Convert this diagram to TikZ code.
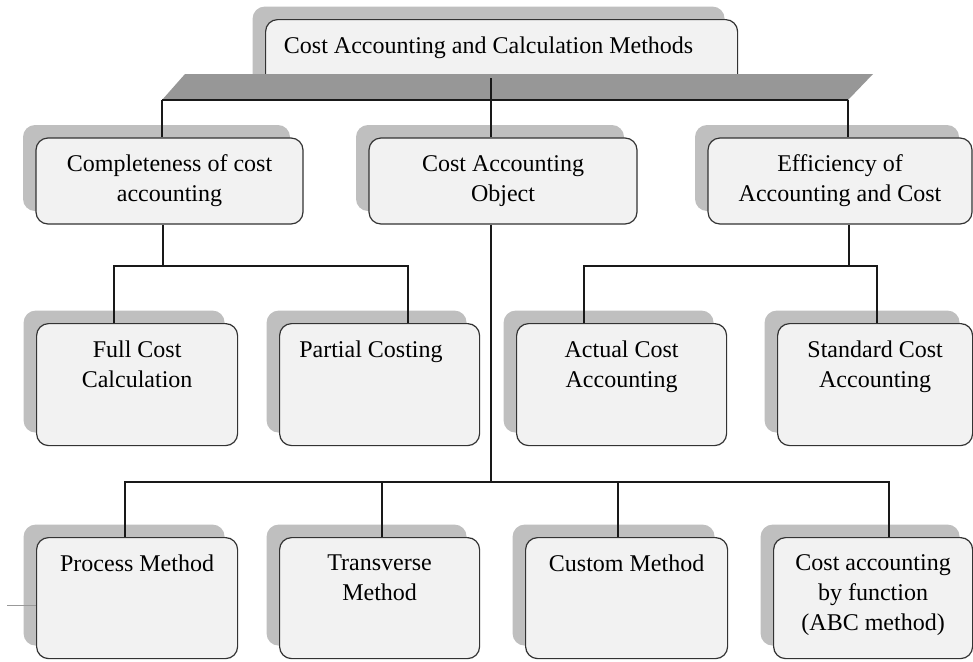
\documentclass[tikz,border=0pt]{standalone}
\usepackage{fontspec}
\setmainfont{Liberation Serif}
\usetikzlibrary{shadows}

\newlength{\pxu}
\setlength{\pxu}{0.75pt}

\definecolor{cardfill}{HTML}{F2F2F2}
\definecolor{shadowgray}{HTML}{BFBFBF}
\definecolor{bargray}{HTML}{979797}
\definecolor{edgegray}{HTML}{333333}

% text placed at the top of a card
\newcommand{\cardtext}[3]{\parbox[t][#2\pxu][t]{#1\pxu}{\centering\vspace*{13pt}#3}}

\tikzset{
  card/.style={draw=edgegray, line width=0.9pt, fill=cardfill, rounded corners=9pt,
    general shadow={fill=shadowgray, shadow xshift=-13*0.75pt, shadow yshift=13*0.75pt},
    inner sep=0pt, font=\fontsize{18}{22.5}\selectfont},
  midcard/.style={card, align=center, minimum height=86*0.75pt},
  link/.style={draw=black!90, line width=0.9pt},
}

\begin{document}
\begin{tikzpicture}[x=0.75pt, y=-0.75pt]
  \useasboundingbox (0,0) rectangle (973,661);

  % title card
  \node[card, anchor=north west] (head) at (265,19)
    {\cardtext{472}{80}{\hspace*{-19.5pt}Cost Accounting and Calculation Methods}};

  % slanted bar under the title
  \fill[bargray] (185,74) -- (873,74) -- (848,100) -- (162,100) -- cycle;
  \draw[link] (162,100) coordinate (barL) -- (848,100) coordinate (barR);
  \coordinate (trunk) at (491,78);

  % first row
  \node[midcard, minimum width=267*0.75pt] (comp) at (169.5,181) {Completeness of cost\\accounting};
  \node[midcard, minimum width=268*0.75pt] (obj) at (503,181) {Cost Accounting\\Object};
  \node[midcard, minimum width=264*0.75pt] (eff) at (840,181) {Efficiency of\\Accounting and Cost};

  % second row
  \node[card, anchor=north west] (full) at (36,323) {\cardtext{201}{122}{Full Cost\\Calculation}};
  \node[card, anchor=north west] (part) at (279,323) {\cardtext{200}{122}{\hspace*{-13pt}Partial Costing}};
  \node[card, anchor=north west] (act) at (516,323) {\cardtext{210}{122}{Actual Cost\\Accounting}};
  \node[card, anchor=north west] (std) at (777,323) {\cardtext{195}{122}{Standard Cost\\Accounting}};

  % third row
  \node[card, anchor=north west] (proc) at (36,537) {\cardtext{201}{121}{Process Method}};
  \node[card, anchor=north west] (trans) at (279,537) {\cardtext{200}{121}{Transverse\\Method}};
  \node[card, anchor=north west] (cust) at (525,537) {\cardtext{202}{121}{Custom Method}};
  \node[card, anchor=north west] (func) at (773,537) {\cardtext{199}{121}{Cost accounting\\by function\\(ABC method)}};

  % bar to first row
  \draw[link] (trunk) -- (obj.north -| trunk);
  \draw[link] (barL) -- (comp.north -| barL);
  \draw[link] (barR) -- (eff.north -| barR);

  % completeness to its two methods
  \coordinate (busL) at (163,266);
  \draw[link] (comp.south -| busL) -- (busL);
  \draw[link] (full.north -| 114,0) |- (busL) -| (part.north -| 408,0);

  % efficiency to its two methods
  \coordinate (busR) at (849,266);
  \draw[link] (eff.south -| busR) -- (busR);
  \draw[link] (act.north -| 584,0) |- (busR) -| (std.north -| 877,0);

  % object to the four methods
  \coordinate (busB) at (491,482);
  \draw[link] (obj.south -| busB) -- (busB);
  \draw[link] (proc.north -| 125,0) |- (busB) -| (func.north -| 889,0);
  \draw[link] (trans.north -| 382,0) -- (busB -| 382,0);
  \draw[link] (cust.north -| 618,0) -- (busB -| 618,0);

  % loose stroke at the left
  \coordinate (loose) at (7,605);
  \draw[shadowgray!80!black, line width=0.6pt] (loose) -- (proc.west |- loose);

\end{tikzpicture}
\end{document}
